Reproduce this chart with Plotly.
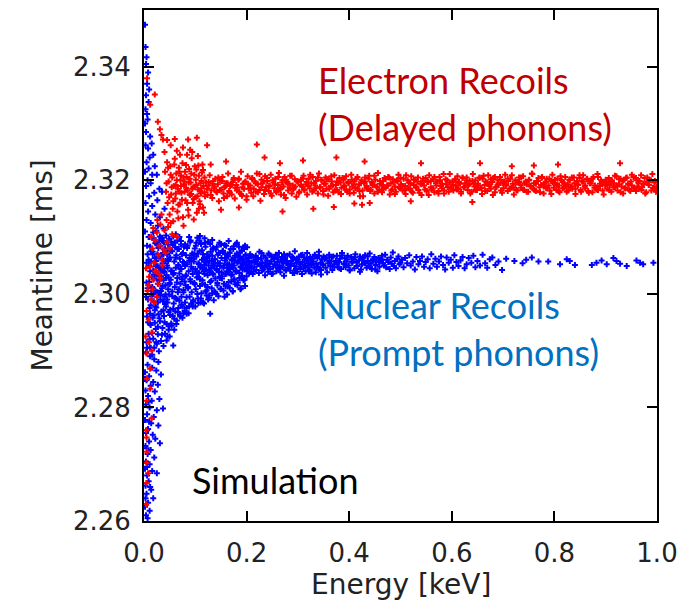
import plotly.graph_objects as go

# ---------------- axis ticks ----------------
x_ticks = [0.0, 0.2, 0.4, 0.6, 0.8, 1.0]
x_tick_labels = ["0.0", "0.2", "0.4", "0.6", "0.8", "1.0"]
y_ticks = [2.26, 2.28, 2.30, 2.32, 2.34]
y_tick_labels = ["2.26", "2.28", "2.30", "2.32", "2.34"]

# ---------------- Nuclear recoils (blue) : (energy keV, meantime ms) ----------------
nr_column = [
    (0.002, 2.3474), (0.003, 2.3435), (0.005, 2.3417), (0.004, 2.3405), (0.008, 2.3390), (0.006, 2.3370),
    (0.010, 2.3360), (0.004, 2.3350), (0.009, 2.3338), (0.003, 2.3325), (0.006, 2.3317), (0.002, 2.3300),
    (0.007, 2.3307), (0.012, 2.3277), (0.004, 2.3285), (0.015, 2.3265), (0.008, 2.3256), (0.003, 2.3262),
    (0.018, 2.3245), (0.011, 2.3240), (0.005, 2.3232), (0.021, 2.3225), (0.009, 2.3221), (0.002, 2.3215),
    (0.016, 2.3210), (0.025, 2.3210), (0.007, 2.3200), (0.013, 2.3195), (0.030, 2.3185), (0.004, 2.3190),
    (0.020, 2.3178), (0.035, 2.3180), (0.010, 2.3172), (0.026, 2.3165), (0.003, 2.3160), (0.016, 2.3155),
    (0.040, 2.3150), (0.008, 2.3145), (0.022, 2.3140), (0.031, 2.3135), (0.005, 2.3130), (0.013, 2.3125),
    (0.027, 2.3120), (0.038, 2.3115), (0.002, 2.3110), (0.018, 2.3108), (0.010, 2.3100), (0.034, 2.3098),
    (0.024, 2.3090), (0.045, 2.3092),
    (0.004, 2.2897), (0.012, 2.2890), (0.020, 2.2885), (0.028, 2.2880), (0.007, 2.2875), (0.016, 2.2870),
    (0.002, 2.2862), (0.024, 2.2865), (0.010, 2.2855), (0.033, 2.2858), (0.005, 2.2848), (0.018, 2.2845),
    (0.013, 2.2838), (0.027, 2.2840), (0.003, 2.2830), (0.021, 2.2828), (0.008, 2.2820), (0.030, 2.2815),
    (0.015, 2.2812), (0.004, 2.2805), (0.037, 2.2798), (0.011, 2.2800), (0.025, 2.2795), (0.006, 2.2788),
    (0.019, 2.2783), (0.002, 2.2778), (0.014, 2.2772), (0.028, 2.2768), (0.008, 2.2762), (0.004, 2.2755),
    (0.017, 2.2752), (0.022, 2.2745), (0.031, 2.2737), (0.010, 2.2740), (0.003, 2.2732), (0.013, 2.2725),
    (0.007, 2.2718), (0.020, 2.2712), (0.004, 2.2705), (0.011, 2.2700), (0.002, 2.2692), (0.016, 2.2688),
    (0.025, 2.2684), (0.006, 2.2680), (0.009, 2.2670), (0.003, 2.2662), (0.014, 2.2655), (0.005, 2.2648),
    (0.018, 2.2640), (0.008, 2.2632), (0.002, 2.2625), (0.011, 2.2618), (0.004, 2.2610), (0.007, 2.2605),
    (0.003, 2.2640), (0.006, 2.2695), (0.010, 2.2775), (0.005, 2.2728), (0.009, 2.2810), (0.002, 2.2850),
    (0.006, 2.2760), (0.012, 2.2660),
]

nr_fan = [
    (0.006, 2.3085), (0.009, 2.3060), (0.012, 2.3040), (0.005, 2.3020), (0.014, 2.3005), (0.008, 2.2990),
    (0.011, 2.2975), (0.006, 2.2960), (0.013, 2.2945), (0.009, 2.2930), (0.005, 2.2915), (0.012, 2.2905),
    (0.007, 2.3070), (0.010, 2.3050), (0.015, 2.3030), (0.004, 2.2995), (0.013, 2.2980), (0.008, 2.2950),
    (0.011, 2.2920), (0.006, 2.2905), (0.014, 2.3075), (0.009, 2.3100), (0.005, 2.3055), (0.012, 2.2965),
    (0.007, 2.3010),
    (0.016, 2.3012), (0.016, 2.2893), (0.017, 2.3074), (0.017, 2.2958), (0.018, 2.3041), (0.018, 2.2921),
    (0.019, 2.3098), (0.019, 2.2987), (0.020, 2.3027), (0.020, 2.2905), (0.021, 2.3063), (0.021, 2.2949),
    (0.022, 2.3006), (0.022, 2.3089), (0.023, 2.2938), (0.023, 2.3052), (0.024, 2.2976), (0.024, 2.3111),
    (0.025, 2.2912), (0.025, 2.3034), (0.026, 2.2995), (0.026, 2.3070), (0.027, 2.2929), (0.027, 2.3018),
    (0.028, 2.3081), (0.028, 2.2964), (0.029, 2.3045), (0.029, 2.2899), (0.030, 2.3002), (0.030, 2.3094),
    (0.018, 2.3000), (0.021, 2.2971), (0.024, 2.3058), (0.027, 2.2985), (0.029, 2.3023),
    (0.031, 2.3047), (0.031, 2.2952), (0.032, 2.3085), (0.032, 2.2998), (0.033, 2.2917), (0.033, 2.3031),
    (0.034, 2.3066), (0.034, 2.2969), (0.035, 2.3010), (0.035, 2.3099), (0.036, 2.2940), (0.036, 2.3054),
    (0.037, 2.2987), (0.037, 2.3072), (0.038, 2.2908), (0.038, 2.3024), (0.039, 2.3091), (0.039, 2.2961),
    (0.040, 2.3039), (0.040, 2.2995), (0.041, 2.3076), (0.041, 2.2930), (0.042, 2.3015), (0.042, 2.3058),
    (0.043, 2.2978), (0.043, 2.3103), (0.044, 2.2947), (0.044, 2.3033), (0.045, 2.3069), (0.045, 2.2990),
    (0.046, 2.2925), (0.046, 2.3046), (0.047, 2.3008), (0.047, 2.3087), (0.048, 2.2968), (0.048, 2.3029),
    (0.049, 2.3061), (0.049, 2.2943), (0.050, 2.3019), (0.050, 2.3080), (0.033, 2.3005), (0.037, 2.3040),
    (0.041, 2.2982), (0.045, 2.3050), (0.049, 2.2999),
    (0.051, 2.3064), (0.051, 2.2972), (0.052, 2.3025), (0.053, 2.3092), (0.053, 2.2948), (0.054, 2.3041),
    (0.055, 2.2996), (0.055, 2.3075), (0.056, 2.2961), (0.057, 2.3034), (0.057, 2.3101), (0.058, 2.2983),
    (0.059, 2.3057), (0.059, 2.2937), (0.060, 2.3012), (0.061, 2.3082), (0.061, 2.2969), (0.062, 2.3046),
    (0.063, 2.2991), (0.063, 2.3068), (0.064, 2.2953), (0.065, 2.3028), (0.065, 2.3094), (0.066, 2.3003),
    (0.067, 2.2975), (0.067, 2.3051), (0.068, 2.3079), (0.069, 2.2988), (0.069, 2.3036), (0.070, 2.3062),
    (0.071, 2.2960), (0.071, 2.3018), (0.072, 2.3087), (0.073, 2.2995), (0.073, 2.3044), (0.074, 2.3070),
    (0.075, 2.2978), (0.075, 2.3030), (0.076, 2.3056), (0.077, 2.3007), (0.077, 2.2966), (0.078, 2.3083),
    (0.079, 2.3022), (0.080, 2.2985), (0.080, 2.3049),
    (0.083, 2.2965), (0.129, 2.2965), (0.057, 2.2909), (0.050, 2.2925), (0.109, 2.3102), (0.062, 2.3105),
]

nr_band_a = [
    (0.081, 2.3031), (0.082, 2.3068), (0.083, 2.2994), (0.084, 2.3052), (0.085, 2.3085), (0.086, 2.3012),
    (0.087, 2.3040), (0.088, 2.2978), (0.089, 2.3063), (0.090, 2.3026), (0.091, 2.3094), (0.092, 2.3048),
    (0.093, 2.3003), (0.094, 2.3071), (0.095, 2.3035), (0.096, 2.2986), (0.097, 2.3057), (0.098, 2.3019),
    (0.099, 2.3080), (0.100, 2.3044), (0.101, 2.3008), (0.102, 2.3066), (0.103, 2.3029), (0.104, 2.3099),
    (0.105, 2.2992), (0.106, 2.3054), (0.107, 2.3037), (0.108, 2.3075), (0.109, 2.3014), (0.110, 2.3047),
    (0.111, 2.3088), (0.112, 2.3001), (0.113, 2.3060), (0.114, 2.3024), (0.115, 2.3070), (0.116, 2.3040),
    (0.117, 2.2983), (0.118, 2.3051), (0.119, 2.3016), (0.120, 2.3083), (0.121, 2.3043), (0.122, 2.3006),
    (0.123, 2.3064), (0.124, 2.3033), (0.125, 2.3092), (0.126, 2.3050), (0.127, 2.2997), (0.128, 2.3058),
    (0.129, 2.3021), (0.130, 2.3074), (0.131, 2.3045), (0.132, 2.3010), (0.133, 2.3067), (0.134, 2.3036),
    (0.135, 2.3081), (0.136, 2.3053), (0.137, 2.3004), (0.138, 2.3061), (0.139, 2.3027), (0.140, 2.3078),
    (0.142, 2.3042), (0.143, 2.3015), (0.144, 2.3069), (0.146, 2.3038), (0.147, 2.3090), (0.148, 2.3049),
    (0.150, 2.3009), (0.151, 2.3063), (0.152, 2.3031), (0.154, 2.3076), (0.155, 2.3046), (0.156, 2.3018),
    (0.158, 2.3059), (0.159, 2.3035), (0.160, 2.3085), (0.162, 2.3052), (0.163, 2.3013), (0.164, 2.3066),
    (0.166, 2.3039), (0.167, 2.3072), (0.168, 2.3044), (0.170, 2.3022), (0.171, 2.3060), (0.172, 2.3034),
    (0.174, 2.3079), (0.175, 2.3050), (0.176, 2.3026), (0.178, 2.3064), (0.179, 2.3041), (0.180, 2.3088),
    (0.182, 2.3055), (0.183, 2.3020), (0.184, 2.3068), (0.186, 2.3037), (0.187, 2.3073), (0.188, 2.3047),
    (0.190, 2.3029), (0.191, 2.3062), (0.192, 2.3043), (0.194, 2.3082), (0.195, 2.3054), (0.196, 2.3025),
    (0.198, 2.3067), (0.199, 2.3045),
    (0.088, 2.3100), (0.095, 2.2978), (0.102, 2.3090), (0.110, 2.2985), (0.118, 2.3098), (0.125, 2.2990),
    (0.133, 2.3095), (0.141, 2.3000), (0.150, 2.3088), (0.157, 2.2995), (0.165, 2.3093), (0.173, 2.3005),
    (0.181, 2.3090), (0.189, 2.3010), (0.197, 2.3085), (0.092, 2.3058), (0.106, 2.3030), (0.120, 2.3055),
    (0.134, 2.3050), (0.148, 2.3028), (0.162, 2.3040), (0.176, 2.3058), (0.190, 2.3048), (0.098, 2.3070),
    (0.114, 2.3045), (0.128, 2.3038), (0.144, 2.3055), (0.158, 2.3070), (0.172, 2.3050), (0.186, 2.3060),
]

nr_dense_energy = [
    0.010, 0.011, 0.012, 0.013, 0.014, 0.015, 0.016, 0.017, 0.018, 0.019, 0.020, 0.021,
    0.022, 0.023, 0.024, 0.025, 0.026, 0.027, 0.028, 0.029, 0.030, 0.031, 0.032, 0.033,
    0.034, 0.035, 0.036, 0.037, 0.038, 0.039, 0.040, 0.041, 0.042, 0.043, 0.044, 0.045,
    0.046, 0.047, 0.048, 0.049, 0.050, 0.051, 0.052, 0.053, 0.054, 0.055, 0.056, 0.057,
    0.058, 0.059, 0.060, 0.061, 0.062, 0.063, 0.064, 0.065, 0.066, 0.067, 0.068, 0.069,
    0.070, 0.071, 0.072, 0.073, 0.074, 0.075, 0.076, 0.077, 0.078, 0.079, 0.080, 0.081,
    0.082, 0.083, 0.084, 0.086, 0.087, 0.088, 0.089, 0.090, 0.091, 0.092, 0.093, 0.095,
    0.096, 0.097, 0.099, 0.100, 0.101, 0.103, 0.104, 0.105, 0.106, 0.107, 0.108, 0.109,
    0.110, 0.111, 0.113, 0.114, 0.115, 0.117, 0.118, 0.119, 0.120, 0.121, 0.122, 0.123,
    0.124, 0.125, 0.127, 0.128, 0.129, 0.131, 0.132, 0.133, 0.134, 0.135, 0.136, 0.137,
    0.138, 0.139, 0.141, 0.142, 0.143, 0.145, 0.146, 0.147, 0.148, 0.149, 0.150, 0.151,
    0.152, 0.153, 0.155, 0.156, 0.157, 0.159, 0.160, 0.161, 0.162, 0.163, 0.164, 0.165,
    0.166, 0.167, 0.169, 0.170, 0.171, 0.173, 0.174, 0.175, 0.176, 0.177, 0.178, 0.179,
    0.180, 0.181, 0.182, 0.184, 0.185, 0.186, 0.187, 0.188, 0.189, 0.190, 0.191, 0.192,
    0.193, 0.194, 0.195, 0.196, 0.197, 0.198, 0.199, 0.200, 0.201, 0.202, 0.203, 0.205,
]
nr_dense_meantime = [
    2.3021, 2.2948, 2.3083, 2.2905, 2.3057, 2.2996, 2.2931, 2.3070, 2.3009, 2.2962, 2.3095, 2.3034,
    2.2978, 2.3049, 2.2915, 2.3088, 2.3003, 2.2942, 2.3066, 2.3025, 2.2957, 2.3101, 2.2990, 2.3039,
    2.3062, 2.2928, 2.3014, 2.3093, 2.2971, 2.3045, 2.2950, 2.3080, 2.2999, 2.3028, 2.2918, 2.3071,
    2.2985, 2.3058, 2.2937, 2.3097, 2.3017, 2.2963, 2.3076, 2.3040, 2.2944, 2.3004, 2.3086, 2.2974,
    2.3037, 2.2956, 2.3090, 2.2993, 2.3064, 2.2947, 2.3020, 2.3079, 2.2968, 2.3050, 2.3008, 2.3100,
    2.2962, 2.3044, 2.3093, 2.2981, 2.3026, 2.2958, 2.3072, 2.3003, 2.3055, 2.2970, 2.3087, 2.3015,
    2.3033, 2.2975, 2.3081, 2.3010, 2.2966, 2.3059, 2.2995, 2.3092, 2.3022, 2.2983, 2.3068, 2.3043,
    2.2989, 2.3062, 2.3017, 2.2978, 2.3085, 2.3038, 2.3000, 2.3071, 2.2984, 2.3052, 2.3094, 2.3026,
    2.3048, 2.2992, 2.3077, 2.3018, 2.2985, 2.3063, 2.3035, 2.3090, 2.3004, 2.3056, 2.2997, 2.3070,
    2.3012, 2.3066, 2.2993, 2.3041, 2.3088, 2.3023, 2.3058, 2.3001, 2.3079, 2.3034, 2.2989, 2.3050,
    2.3061, 2.3003, 2.3044, 2.3083, 2.3019, 2.2996, 2.3072, 2.3030, 2.3054, 2.3008, 2.3087, 2.3038,
    2.3027, 2.3075, 2.3006, 2.3050, 2.3086, 2.3014, 2.3063, 2.3036, 2.2999, 2.3070, 2.3045, 2.3021,
    2.3052, 2.3011, 2.3079, 2.3033, 2.3060, 2.3004, 2.3046, 2.3084, 2.3025, 2.3067, 2.3017, 2.3040,
    2.3039, 2.3071, 2.3015, 2.3057, 2.3083, 2.3028, 2.3064, 2.3008, 2.3048, 2.3076, 2.3032, 2.3054,
    2.3062, 2.3024, 2.3079, 2.3043, 2.3014, 2.3069, 2.3051, 2.3031, 2.3082, 2.3046, 2.3058, 2.3037,
]

nr_band_b_energy = [
    0.201, 0.203, 0.204, 0.206, 0.207, 0.209, 0.210, 0.212, 0.213, 0.215, 0.216, 0.218, 0.219, 0.221, 0.222,
    0.224, 0.225, 0.227, 0.228, 0.230, 0.231, 0.233, 0.234, 0.236, 0.237, 0.239, 0.240, 0.242, 0.243, 0.245,
    0.246, 0.248, 0.249, 0.251, 0.252, 0.254, 0.255, 0.257, 0.258, 0.260, 0.261, 0.263, 0.264, 0.266, 0.267,
    0.269, 0.270, 0.272, 0.273, 0.275, 0.276, 0.278, 0.279, 0.281, 0.282, 0.284, 0.285, 0.287, 0.288, 0.290,
    0.291, 0.293, 0.294, 0.296, 0.297, 0.299, 0.300, 0.302, 0.303, 0.305, 0.306, 0.308, 0.309, 0.311, 0.312,
    0.314, 0.315, 0.317, 0.318, 0.320, 0.321, 0.323, 0.324, 0.326, 0.327, 0.329, 0.330, 0.332, 0.333, 0.335,
    0.336, 0.338, 0.339, 0.341, 0.342, 0.344, 0.345, 0.347, 0.348, 0.350,
]
nr_band_b_meantime = [
    2.3059, 2.3040, 2.3063, 2.3050, 2.3070, 2.3045, 2.3055, 2.3035, 2.3065, 2.3048,
    2.3056, 2.3067, 2.3042, 2.3052, 2.3061, 2.3037, 2.3074, 2.3049, 2.3062, 2.3041,
    2.3055, 2.3067, 2.3046, 2.3033, 2.3064, 2.3051, 2.3059, 2.3039, 2.3071, 2.3053,
    2.3044, 2.3057, 2.3066, 2.3036, 2.3048, 2.3063, 2.3052, 2.3069, 2.3040, 2.3056,
    2.3045, 2.3072, 2.3050, 2.3038, 2.3060, 2.3065, 2.3047, 2.3054, 2.3032, 2.3062,
    2.3043, 2.3058, 2.3067, 2.3051, 2.3046, 2.3070, 2.3041, 2.3058, 2.3053, 2.3037,
    2.3063, 2.3049, 2.3075, 2.3044, 2.3055, 2.3039, 2.3060, 2.3066, 2.3048, 2.3052,
    2.3068, 2.3035, 2.3056, 2.3045, 2.3064, 2.3050, 2.3040, 2.3059, 2.3072, 2.3047,
    2.3054, 2.3042, 2.3065, 2.3051, 2.3036, 2.3062, 2.3057, 2.3046, 2.3069, 2.3038,
    2.3053, 2.3063, 2.3048, 2.3067, 2.3043, 2.3055, 2.3034, 2.3061, 2.3052, 2.3066,
]

nr_band_e_energy = [
    0.205, 0.209, 0.213, 0.217, 0.221, 0.225, 0.229, 0.233, 0.237, 0.241, 0.245, 0.249, 0.253, 0.257, 0.261,
    0.265, 0.269, 0.273, 0.277, 0.281, 0.285, 0.289, 0.293, 0.297, 0.301, 0.305, 0.309, 0.313, 0.317, 0.321,
    0.325, 0.329, 0.333, 0.337, 0.341, 0.345, 0.349, 0.353, 0.357, 0.361, 0.366, 0.371, 0.376, 0.381, 0.386,
    0.391, 0.396, 0.401, 0.406, 0.411, 0.416, 0.421, 0.426, 0.431, 0.436, 0.441, 0.446, 0.451, 0.458, 0.465,
]
nr_band_e_meantime = [
    2.3047, 2.3066, 2.3039, 2.3058, 2.3063, 2.3052, 2.3072, 2.3043, 2.3055, 2.3048, 2.3068, 2.3035, 2.3061, 2.3051, 2.3064,
    2.3045, 2.3057, 2.3070, 2.3041, 2.3054, 2.3049, 2.3065, 2.3037, 2.3060, 2.3056, 2.3044, 2.3069, 2.3050, 2.3062, 2.3040,
    2.3059, 2.3053, 2.3067, 2.3046, 2.3074, 2.3042, 2.3051, 2.3063, 2.3038, 2.3058, 2.3065, 2.3048, 2.3055, 2.3045, 2.3068,
    2.3052, 2.3061, 2.3042, 2.3057, 2.3064, 2.3049, 2.3039, 2.3062, 2.3054, 2.3066, 2.3047, 2.3059, 2.3043, 2.3056, 2.3060,
]

nr_band_c_energy = [
    0.352, 0.354, 0.356, 0.359, 0.361, 0.363, 0.365, 0.367, 0.369, 0.371,
    0.374, 0.376, 0.378, 0.380, 0.382, 0.384, 0.386, 0.389, 0.391, 0.393,
    0.395, 0.397, 0.399, 0.401, 0.404, 0.406, 0.408, 0.410, 0.412, 0.414,
    0.416, 0.419, 0.421, 0.423, 0.425, 0.427, 0.429, 0.431, 0.434, 0.436,
    0.438, 0.440, 0.442, 0.444, 0.446, 0.449, 0.451, 0.453, 0.455, 0.457,
    0.459, 0.461, 0.464, 0.466, 0.468, 0.470, 0.472, 0.474, 0.476, 0.479,
    0.481, 0.483, 0.485, 0.487, 0.489, 0.491, 0.494, 0.496, 0.498, 0.500,
]
nr_band_c_meantime = [
    2.3061, 2.3046, 2.3064, 2.3054, 2.3069, 2.3049, 2.3057, 2.3042, 2.3066, 2.3052,
    2.3058, 2.3067, 2.3047, 2.3056, 2.3062, 2.3044, 2.3072, 2.3053, 2.3063, 2.3047,
    2.3057, 2.3067, 2.3050, 2.3041, 2.3065, 2.3055, 2.3061, 2.3045, 2.3070, 2.3056,
    2.3049, 2.3059, 2.3066, 2.3043, 2.3052, 2.3064, 2.3055, 2.3068, 2.3046, 2.3058,
    2.3050, 2.3071, 2.3054, 2.3044, 2.3061, 2.3065, 2.3051, 2.3057, 2.3040, 2.3063,
    2.3048, 2.3060, 2.3067, 2.3054, 2.3050, 2.3069, 2.3047, 2.3060, 2.3056, 2.3044,
    2.3064, 2.3053, 2.3073, 2.3049, 2.3058, 2.3045, 2.3062, 2.3066, 2.3052, 2.3055,
]

nr_band_d_energy = [
    0.503, 0.506, 0.509, 0.513, 0.517, 0.520, 0.524, 0.528, 0.531, 0.535,
    0.538, 0.542, 0.546, 0.549, 0.553, 0.557, 0.560, 0.564, 0.568, 0.571,
    0.575, 0.579, 0.583, 0.587, 0.590, 0.594, 0.598, 0.602, 0.605, 0.609,
    0.613, 0.617, 0.621, 0.625, 0.629, 0.633, 0.638, 0.642, 0.646, 0.650,
    0.655, 0.660, 0.665, 0.669, 0.674, 0.679, 0.685, 0.691, 0.698, 0.706,
]
nr_band_d_meantime = [
    2.3060, 2.3047, 2.3063, 2.3054, 2.3068, 2.3050, 2.3057, 2.3043, 2.3065, 2.3052,
    2.3058, 2.3066, 2.3048, 2.3056, 2.3061, 2.3045, 2.3070, 2.3053, 2.3062, 2.3048,
    2.3057, 2.3066, 2.3051, 2.3043, 2.3064, 2.3055, 2.3060, 2.3046, 2.3068, 2.3056,
    2.3049, 2.3059, 2.3065, 2.3045, 2.3052, 2.3063, 2.3055, 2.3067, 2.3047, 2.3058,
    2.3050, 2.3069, 2.3054, 2.3046, 2.3061, 2.3064, 2.3051, 2.3057, 2.3042, 2.3062,
]

nr_sparse = [
    (0.722, 2.3058), (0.738, 2.3054), (0.745, 2.3060), (0.756, 2.3064), (0.769, 2.3057), (0.788, 2.3057),
    (0.811, 2.3052), (0.824, 2.3061), (0.830, 2.3058), (0.840, 2.3051), (0.873, 2.3051), (0.882, 2.3055),
    (0.892, 2.3059), (0.902, 2.3052), (0.915, 2.3063), (0.921, 2.3058), (0.928, 2.3053), (0.941, 2.3049),
    (0.960, 2.3059), (0.967, 2.3055), (0.973, 2.3052), (0.993, 2.3055),
]

# ---------------- Electron recoils (red) ----------------
er_tail = [
    (0.005, 2.2970), (0.015, 2.2932), (0.005, 2.2895), (0.015, 2.2900), (0.012, 2.2868), (0.012, 2.2833),
    (0.005, 2.2812), (0.015, 2.2781), (0.005, 2.2747), (0.005, 2.2702), (0.008, 2.2684), (0.005, 2.2667),
    (0.004, 2.2760), (0.006, 2.2850), (0.003, 2.2925), (0.009, 2.2955), (0.020, 2.2985), (0.025, 2.2995),
    (0.007, 2.3005), (0.017, 2.3008), (0.028, 2.3018), (0.004, 2.3045), (0.014, 2.2990), (0.010, 2.2915),
    (0.004, 2.2630), (0.006, 2.2722), (0.022, 2.3040), (0.032, 2.3028),
    (0.018, 2.3116), (0.025, 2.3108), (0.032, 2.3122), (0.040, 2.3112), (0.047, 2.3118), (0.055, 2.3105),
    (0.064, 2.3100), (0.022, 2.3095), (0.030, 2.3085), (0.038, 2.3078), (0.045, 2.3092), (0.050, 2.3081),
    (0.028, 2.3068), (0.035, 2.3060), (0.042, 2.3072), (0.016, 2.3080), (0.020, 2.3055), (0.012, 2.3048),
    (0.024, 2.3040), (0.010, 2.3030), (0.030, 2.3035), (0.008, 2.3015), (0.018, 2.3025), (0.036, 2.3050),
    (0.026, 2.3130), (0.034, 2.3140), (0.014, 2.3100), (0.044, 2.3130), (0.052, 2.3125),
]

er_low = [
    (0.012, 2.3333), (0.021, 2.3351), (0.027, 2.3303), (0.031, 2.3290), (0.034, 2.3280), (0.037, 2.3272),
    (0.045, 2.3271), (0.060, 2.3273), (0.086, 2.3272), (0.103, 2.3275), (0.076, 2.3258), (0.090, 2.3254),
    (0.123, 2.3262), (0.052, 2.3262), (0.040, 2.3250), (0.070, 2.3245), (0.105, 2.3243), (0.006, 2.3380),
    (0.041, 2.3215), (0.043, 2.3180), (0.045, 2.3232), (0.046, 2.3160), (0.048, 2.3198), (0.050, 2.3140),
    (0.051, 2.3225), (0.053, 2.3175), (0.055, 2.3205), (0.056, 2.3150), (0.058, 2.3190), (0.060, 2.3238),
    (0.061, 2.3168), (0.063, 2.3212), (0.065, 2.3145), (0.066, 2.3185), (0.068, 2.3222), (0.070, 2.3158),
    (0.071, 2.3200), (0.073, 2.3178), (0.075, 2.3230), (0.076, 2.3135), (0.078, 2.3193), (0.080, 2.3215),
    (0.081, 2.3165), (0.083, 2.3206), (0.085, 2.3182), (0.086, 2.3148), (0.088, 2.3220), (0.090, 2.3174),
    (0.091, 2.3196), (0.093, 2.3239), (0.095, 2.3160), (0.096, 2.3188), (0.098, 2.3210), (0.100, 2.3170),
    (0.101, 2.3201), (0.103, 2.3143), (0.105, 2.3184), (0.106, 2.3226), (0.108, 2.3163), (0.110, 2.3195),
    (0.111, 2.3177), (0.113, 2.3214), (0.115, 2.3152), (0.116, 2.3190), (0.118, 2.3205), (0.119, 2.3172),
    (0.062, 2.3192), (0.072, 2.3208), (0.082, 2.3187), (0.092, 2.3176), (0.102, 2.3219), (0.112, 2.3199),
    (0.057, 2.3128), (0.067, 2.3133), (0.077, 2.3120), (0.087, 2.3138), (0.097, 2.3131), (0.107, 2.3150),
    (0.117, 2.3143), (0.084, 2.3245), (0.064, 2.3252), (0.094, 2.3250), (0.079, 2.3198), (0.069, 2.3180),
    (0.089, 2.3203), (0.099, 2.3189), (0.109, 2.3181), (0.114, 2.3228),
    (0.044, 2.3195), (0.047, 2.3222), (0.049, 2.3170), (0.052, 2.3210), (0.054, 2.3188), (0.057, 2.3163),
    (0.059, 2.3228), (0.062, 2.3177), (0.064, 2.3200), (0.067, 2.3157), (0.069, 2.3215), (0.072, 2.3190),
    (0.074, 2.3166), (0.077, 2.3205), (0.079, 2.3180), (0.082, 2.3227), (0.084, 2.3160), (0.087, 2.3196),
    (0.089, 2.3175), (0.092, 2.3212), (0.094, 2.3185), (0.097, 2.3167), (0.099, 2.3225), (0.102, 2.3192),
    (0.104, 2.3172), (0.107, 2.3208), (0.109, 2.3158), (0.112, 2.3186), (0.115, 2.3218), (0.118, 2.3179),
]

er_band_a = [
    (0.121, 2.3196), (0.124, 2.3174), (0.126, 2.3191), (0.128, 2.3209), (0.131, 2.3182), (0.133, 2.3169),
    (0.135, 2.3199), (0.137, 2.3186), (0.139, 2.3203), (0.142, 2.3179), (0.144, 2.3193), (0.146, 2.3163),
    (0.148, 2.3200), (0.151, 2.3184), (0.153, 2.3206), (0.155, 2.3177), (0.157, 2.3188), (0.160, 2.3195),
    (0.162, 2.3172), (0.164, 2.3212), (0.166, 2.3181), (0.168, 2.3190), (0.171, 2.3175), (0.173, 2.3197),
    (0.175, 2.3204), (0.177, 2.3168), (0.180, 2.3192), (0.182, 2.3187), (0.184, 2.3201), (0.186, 2.3180),
    (0.189, 2.3215), (0.191, 2.3173), (0.193, 2.3194), (0.195, 2.3185), (0.198, 2.3198), (0.200, 2.3166),
    (0.202, 2.3207), (0.204, 2.3185), (0.207, 2.3191), (0.209, 2.3178), (0.211, 2.3204), (0.213, 2.3172),
    (0.216, 2.3198), (0.218, 2.3180), (0.220, 2.3212), (0.222, 2.3193), (0.225, 2.3183), (0.227, 2.3164),
    (0.229, 2.3201), (0.231, 2.3195), (0.234, 2.3176), (0.236, 2.3207), (0.238, 2.3188), (0.240, 2.3199),
    (0.243, 2.3181), (0.245, 2.3190), (0.247, 2.3210), (0.249, 2.3173), (0.252, 2.3196), (0.254, 2.3186),
    (0.256, 2.3203), (0.258, 2.3179), (0.261, 2.3192), (0.263, 2.3213), (0.265, 2.3184), (0.267, 2.3175),
    (0.270, 2.3200), (0.272, 2.3189), (0.274, 2.3206), (0.276, 2.3169), (0.279, 2.3197), (0.281, 2.3182),
    (0.283, 2.3194), (0.285, 2.3208), (0.288, 2.3177), (0.290, 2.3191), (0.292, 2.3187), (0.294, 2.3202),
    (0.297, 2.3171), (0.299, 2.3198),
    (0.220, 2.3263), (0.160, 2.3233), (0.235, 2.3240), (0.150, 2.3148), (0.185, 2.3152), (0.270, 2.3145),
    (0.130, 2.3228), (0.265, 2.3230),
]

er_band_b_energy = [
    0.301, 0.303, 0.306, 0.308, 0.311, 0.312, 0.316, 0.318, 0.321, 0.323,
    0.326, 0.329, 0.331, 0.334, 0.335, 0.339, 0.341, 0.344, 0.346, 0.349,
    0.351, 0.354, 0.356, 0.359, 0.360, 0.364, 0.366, 0.369, 0.371, 0.374,
    0.376, 0.379, 0.381, 0.384, 0.385, 0.389, 0.391, 0.394, 0.396, 0.399,
    0.401, 0.404, 0.406, 0.409, 0.410, 0.414, 0.416, 0.419, 0.421, 0.424,
    0.426, 0.429, 0.431, 0.434, 0.435, 0.439, 0.441, 0.444, 0.446, 0.449,
    0.451, 0.454, 0.456, 0.459, 0.460, 0.464, 0.466, 0.469, 0.471, 0.474,
    0.476, 0.479, 0.481, 0.484, 0.485, 0.489, 0.491, 0.494, 0.496, 0.499,
    0.501, 0.504, 0.506, 0.509, 0.510, 0.514, 0.516, 0.519, 0.521, 0.524,
    0.526, 0.529, 0.531, 0.534, 0.535, 0.539, 0.541, 0.544, 0.546, 0.549,
    0.551, 0.554, 0.556, 0.559, 0.560, 0.564, 0.566, 0.569, 0.571, 0.574,
    0.576, 0.579, 0.581, 0.584, 0.585, 0.589, 0.591, 0.594, 0.596, 0.599,
]
er_band_b_meantime = [
    2.3197, 2.3180, 2.3201, 2.3189, 2.3208, 2.3184, 2.3193, 2.3175, 2.3203, 2.3186,
    2.3195, 2.3206, 2.3182, 2.3191, 2.3199, 2.3177, 2.3212, 2.3188, 2.3200, 2.3181,
    2.3194, 2.3205, 2.3185, 2.3173, 2.3202, 2.3190, 2.3198, 2.3179, 2.3209, 2.3192,
    2.3183, 2.3196, 2.3204, 2.3176, 2.3187, 2.3201, 2.3191, 2.3207, 2.3180, 2.3195,
    2.3184, 2.3210, 2.3189, 2.3178, 2.3198, 2.3203, 2.3186, 2.3193, 2.3172, 2.3200,
    2.3182, 2.3196, 2.3205, 2.3190, 2.3185, 2.3208, 2.3181, 2.3197, 2.3192, 2.3177,
    2.3201, 2.3188, 2.3213, 2.3183, 2.3194, 2.3179, 2.3199, 2.3204, 2.3187, 2.3191,
    2.3206, 2.3175, 2.3195, 2.3184, 2.3202, 2.3189, 2.3180, 2.3198, 2.3210, 2.3186,
    2.3193, 2.3182, 2.3203, 2.3190, 2.3176, 2.3200, 2.3196, 2.3185, 2.3207, 2.3178,
    2.3192, 2.3201, 2.3187, 2.3205, 2.3183, 2.3194, 2.3174, 2.3199, 2.3191, 2.3204,
    2.3181, 2.3197, 2.3209, 2.3188, 2.3184, 2.3202, 2.3179, 2.3195, 2.3198, 2.3177,
    2.3206, 2.3190, 2.3186, 2.3211, 2.3182, 2.3193, 2.3200, 2.3180, 2.3196, 2.3189,
]

er_band_c_energy = [
    0.601, 0.603, 0.606, 0.608, 0.611, 0.612, 0.616, 0.618, 0.621, 0.623,
    0.626, 0.629, 0.631, 0.634, 0.635, 0.639, 0.641, 0.644, 0.646, 0.649,
    0.651, 0.654, 0.656, 0.659, 0.660, 0.664, 0.666, 0.669, 0.671, 0.674,
    0.676, 0.679, 0.681, 0.684, 0.685, 0.689, 0.691, 0.694, 0.696, 0.699,
    0.701, 0.704, 0.706, 0.709, 0.710, 0.714, 0.716, 0.719, 0.721, 0.724,
    0.726, 0.729, 0.731, 0.734, 0.735, 0.739, 0.741, 0.744, 0.746, 0.749,
    0.751, 0.754, 0.756, 0.759, 0.760, 0.764, 0.766, 0.769, 0.771, 0.774,
    0.776, 0.779, 0.781, 0.784, 0.785, 0.789, 0.791, 0.794, 0.796, 0.799,
    0.801, 0.804, 0.806, 0.809, 0.810, 0.814, 0.816, 0.819, 0.821, 0.824,
    0.826, 0.829, 0.831, 0.834, 0.835, 0.839, 0.841, 0.844, 0.846, 0.849,
    0.851, 0.854, 0.856, 0.859, 0.860, 0.864, 0.866, 0.869, 0.871, 0.874,
    0.876, 0.879, 0.881, 0.884, 0.885, 0.889, 0.891, 0.894, 0.896, 0.899,
    0.901, 0.903, 0.906, 0.908, 0.911, 0.912, 0.916, 0.918, 0.921, 0.923,
    0.926, 0.929, 0.931, 0.934, 0.935, 0.939, 0.941, 0.944, 0.946, 0.949,
    0.951, 0.954, 0.956, 0.959, 0.960, 0.964, 0.966, 0.969, 0.971, 0.974,
    0.976, 0.979, 0.981, 0.984, 0.985, 0.989, 0.991, 0.994, 0.996, 0.999,
]
er_band_c_meantime = [
    2.3198, 2.3182, 2.3201, 2.3191, 2.3207, 2.3186, 2.3194, 2.3177, 2.3204, 2.3188,
    2.3195, 2.3205, 2.3183, 2.3193, 2.3199, 2.3180, 2.3211, 2.3189, 2.3200, 2.3183,
    2.3194, 2.3205, 2.3187, 2.3176, 2.3203, 2.3192, 2.3198, 2.3181, 2.3209, 2.3193,
    2.3185, 2.3197, 2.3204, 2.3179, 2.3188, 2.3201, 2.3192, 2.3206, 2.3182, 2.3195,
    2.3186, 2.3210, 2.3191, 2.3181, 2.3199, 2.3203, 2.3187, 2.3194, 2.3175, 2.3200,
    2.3183, 2.3197, 2.3205, 2.3192, 2.3187, 2.3207, 2.3183, 2.3198, 2.3193, 2.3180,
    2.3201, 2.3189, 2.3212, 2.3185, 2.3195, 2.3181, 2.3199, 2.3204, 2.3188, 2.3192,
    2.3206, 2.3177, 2.3195, 2.3186, 2.3203, 2.3191, 2.3182, 2.3199, 2.3210, 2.3187,
    2.3194, 2.3183, 2.3203, 2.3191, 2.3179, 2.3200, 2.3197, 2.3187, 2.3206, 2.3180,
    2.3193, 2.3201, 2.3188, 2.3205, 2.3185, 2.3195, 2.3176, 2.3199, 2.3192, 2.3204,
    2.3183, 2.3198, 2.3209, 2.3189, 2.3186, 2.3203, 2.3181, 2.3195, 2.3199, 2.3179,
    2.3206, 2.3191, 2.3187, 2.3211, 2.3183, 2.3194, 2.3200, 2.3182, 2.3197, 2.3191,
    2.3197, 2.3185, 2.3204, 2.3192, 2.3180, 2.3200, 2.3195, 2.3188, 2.3207, 2.3182,
    2.3193, 2.3203, 2.3189, 2.3177, 2.3201, 2.3186, 2.3205, 2.3194, 2.3183, 2.3198,
    2.3191, 2.3206, 2.3187, 2.3181, 2.3200, 2.3195, 2.3185, 2.3209, 2.3188, 2.3193,
    2.3204, 2.3179, 2.3197, 2.3192, 2.3201, 2.3182, 2.3211, 2.3186, 2.3199, 2.3189,
]

er_band_d_energy = [
    0.123, 0.126, 0.130, 0.134, 0.137, 0.141, 0.145, 0.148, 0.152, 0.156, 0.159, 0.163,
    0.167, 0.170, 0.174, 0.178, 0.181, 0.185, 0.189, 0.192, 0.196, 0.200, 0.203, 0.207,
    0.211, 0.214, 0.218, 0.222, 0.225, 0.229, 0.233, 0.236, 0.240, 0.244, 0.247, 0.251,
    0.255, 0.258, 0.262, 0.266, 0.269, 0.273, 0.277, 0.280, 0.284, 0.288, 0.291, 0.295,
    0.299, 0.302, 0.306, 0.310, 0.313, 0.317, 0.321, 0.324, 0.328, 0.332, 0.335, 0.339,
    0.343, 0.346, 0.350, 0.354, 0.357, 0.361, 0.365, 0.368, 0.372, 0.376, 0.379, 0.383,
    0.387, 0.390, 0.394, 0.398, 0.401, 0.405, 0.409, 0.412, 0.416, 0.420, 0.423, 0.427,
    0.431, 0.434, 0.438, 0.442, 0.445, 0.449, 0.453, 0.456, 0.460, 0.464, 0.467, 0.471,
    0.475, 0.478, 0.482, 0.486, 0.489, 0.493, 0.497, 0.500, 0.504, 0.508, 0.511, 0.515,
    0.519, 0.522, 0.526, 0.530, 0.533, 0.537, 0.541, 0.544, 0.548, 0.552, 0.555, 0.559,
    0.563, 0.566, 0.570, 0.574, 0.577, 0.581, 0.585, 0.588, 0.592, 0.596, 0.599, 0.603,
    0.607, 0.610, 0.614, 0.618, 0.621, 0.625, 0.629, 0.632, 0.636, 0.640, 0.643, 0.647,
    0.651, 0.654, 0.658, 0.662, 0.665, 0.669, 0.673, 0.676, 0.680, 0.684, 0.687, 0.691,
    0.695, 0.698, 0.702, 0.706, 0.709, 0.713, 0.717, 0.720, 0.724, 0.728, 0.731, 0.735,
    0.739, 0.742, 0.746, 0.750, 0.753, 0.757, 0.761, 0.764, 0.768, 0.772, 0.775, 0.779,
    0.783, 0.786, 0.790, 0.794, 0.797, 0.801, 0.805, 0.808, 0.812, 0.816, 0.819, 0.823,
    0.827, 0.830, 0.834, 0.838, 0.841, 0.845, 0.849, 0.852, 0.856, 0.860, 0.863, 0.867,
    0.871, 0.874, 0.878, 0.882, 0.885, 0.889, 0.893, 0.896, 0.900, 0.904, 0.907, 0.911,
    0.915, 0.918, 0.922, 0.926, 0.929, 0.933, 0.937, 0.940, 0.944, 0.948, 0.951, 0.955,
    0.959, 0.962, 0.966, 0.970, 0.973, 0.977, 0.981, 0.984, 0.988, 0.992, 0.995, 0.998,
]
er_band_d_meantime = [
    2.3185, 2.3197, 2.3174, 2.3194, 2.3189, 2.3180, 2.3205, 2.3183, 2.3199, 2.3169, 2.3190, 2.3195,
    2.3178, 2.3192, 2.3201, 2.3187, 2.3182, 2.3203, 2.3176, 2.3188, 2.3196, 2.3172, 2.3193, 2.3186,
    2.3202, 2.3185, 2.3195, 2.3179, 2.3211, 2.3188, 2.3198, 2.3183, 2.3204, 2.3191, 2.3177, 2.3200,
    2.3193, 2.3181, 2.3206, 2.3186, 2.3196, 2.3174, 2.3201, 2.3194, 2.3187, 2.3208, 2.3184, 2.3189,
    2.3199, 2.3178, 2.3192, 2.3203, 2.3183, 2.3197, 2.3190, 2.3210, 2.3180, 2.3195, 2.3186, 2.3205,
    2.3188, 2.3200, 2.3175, 2.3194, 2.3202, 2.3185, 2.3207, 2.3191, 2.3182, 2.3198, 2.3179, 2.3196,
    2.3204, 2.3190, 2.3183, 2.3197, 2.3177, 2.3201, 2.3193, 2.3186, 2.3206, 2.3181, 2.3195, 2.3172,
    2.3198, 2.3187, 2.3203, 2.3184, 2.3194, 2.3208, 2.3189, 2.3180, 2.3199, 2.3192, 2.3185, 2.3202,
    2.3191, 2.3205, 2.3182, 2.3196, 2.3176, 2.3200, 2.3188, 2.3204, 2.3190, 2.3183, 2.3209, 2.3186,
    2.3195, 2.3180, 2.3201, 2.3189, 2.3198, 2.3178, 2.3193, 2.3203, 2.3184, 2.3197, 2.3174, 2.3199,
    2.3186, 2.3206, 2.3191, 2.3181, 2.3200, 2.3194, 2.3177, 2.3202, 2.3188, 2.3211, 2.3185, 2.3192,
    2.3202, 2.3184, 2.3197, 2.3180, 2.3205, 2.3188, 2.3200, 2.3191, 2.3177, 2.3199, 2.3194, 2.3183,
    2.3191, 2.3204, 2.3186, 2.3208, 2.3181, 2.3196, 2.3190, 2.3202, 2.3174, 2.3206, 2.3188, 2.3195,
    2.3201, 2.3178, 2.3198, 2.3192, 2.3203, 2.3185, 2.3209, 2.3187, 2.3193, 2.3182, 2.3197, 2.3205,
    2.3184, 2.3195, 2.3180, 2.3200, 2.3190, 2.3211, 2.3183, 2.3194, 2.3199, 2.3179, 2.3204, 2.3189,
    2.3197, 2.3187, 2.3203, 2.3176, 2.3196, 2.3201, 2.3192, 2.3181, 2.3207, 2.3186, 2.3195, 2.3190,
    2.3182, 2.3200, 2.3189, 2.3205, 2.3185, 2.3193, 2.3209, 2.3180, 2.3198, 2.3191, 2.3202, 2.3178,
    2.3195, 2.3203, 2.3187, 2.3184, 2.3206, 2.3190, 2.3197, 2.3175, 2.3201, 2.3194, 2.3183, 2.3199,
    2.3188, 2.3208, 2.3191, 2.3202, 2.3179, 2.3198, 2.3186, 2.3204, 2.3193, 2.3181, 2.3210, 2.3185,
    2.3204, 2.3189, 2.3199, 2.3183, 2.3194, 2.3177, 2.3205, 2.3192, 2.3200, 2.3187, 2.3196, 2.3180,
]

er_outliers = [
    (0.375, 2.3240), (0.430, 2.3233), (0.540, 2.3230), (0.655, 2.3230), (0.717, 2.3225), (0.807, 2.3228),
    (0.928, 2.3230), (0.760, 2.3226), (0.310, 2.3235), (0.330, 2.3150), (0.370, 2.3153), (0.410, 2.3159),
    (0.425, 2.3157), (0.440, 2.3160), (0.520, 2.3163), (0.640, 2.3162),
]


def unzip(pairs):
    return [p[0] for p in pairs], [p[1] for p in pairs]


nr_x, nr_y = [], []
for seg in (nr_column, nr_fan, nr_band_a, nr_sparse):
    sx, sy = unzip(seg)
    nr_x += sx
    nr_y += sy
nr_x += nr_dense_energy + nr_band_b_energy + nr_band_e_energy + nr_band_c_energy + nr_band_d_energy
nr_y += nr_dense_meantime + nr_band_b_meantime + nr_band_e_meantime + nr_band_c_meantime + nr_band_d_meantime

er_x, er_y = [], []
for seg in (er_low, er_band_a, er_outliers):
    sx, sy = unzip(seg)
    er_x += sx
    er_y += sy
er_x += er_band_b_energy + er_band_c_energy + er_band_d_energy
er_y += er_band_b_meantime + er_band_c_meantime + er_band_d_meantime
tx, ty = unzip(er_tail)
er_x += tx
er_y += ty

MARK = dict(symbol="cross", size=5, line=dict(width=0))

fig = go.Figure()
fig.add_trace(go.Scatter(x=nr_x, y=nr_y, mode="markers", name="Nuclear Recoils",
                         marker=dict(color="#0000ff", **MARK), hoverinfo="skip"))
fig.add_trace(go.Scatter(x=er_x, y=er_y, mode="markers", name="Electron Recoils",
                         marker=dict(color="#ff0000", **MARK), hoverinfo="skip"))

axis_common = dict(
    showgrid=False, zeroline=False, showline=True, linecolor="black", linewidth=2,
    mirror="allticks", ticks="inside", ticklen=10, tickwidth=1.5, tickcolor="black",
    tickfont=dict(family="DejaVu Sans", size=26, color="#222222"),
)
fig.update_xaxes(range=[0, 1], tickvals=x_ticks, ticktext=x_tick_labels, ticklabelstandoff=8, **axis_common)
fig.update_yaxes(range=[2.26, 2.35], tickvals=y_ticks, ticktext=y_tick_labels, ticklabelstandoff=6, **axis_common)

TXT = "Lato"
fig.update_layout(
    width=700, height=604, margin=dict(l=144, r=43, t=8, b=83),
    plot_bgcolor="white", paper_bgcolor="white", showlegend=False,
    annotations=[
        dict(text="Electron Recoils<br>(Delayed phonons)", x=0.335, y=0.8177, xref="paper", yref="paper",
             xanchor="left", yanchor="middle", align="left", showarrow=False,
             font=dict(family=TXT, size=36, color="#c00000")),
        dict(text="Nuclear Recoils<br>(Prompt phonons)", x=0.335, y=0.376, xref="paper", yref="paper",
             xanchor="left", yanchor="middle", align="left", showarrow=False,
             font=dict(family=TXT, size=36, color="#0070c0")),
        dict(text="Simulation", x=0.0897, y=0.081, xref="paper", yref="paper",
             xanchor="left", yanchor="middle", align="left", showarrow=False,
             font=dict(family=TXT, size=36, color="black")),
        dict(text="Energy [keV]", x=0.5, y=-0.1248, xref="paper", yref="paper",
             xanchor="center", yanchor="middle", showarrow=False,
             font=dict(family="DejaVu Sans", size=28, color="#222222")),
        dict(text="Meantime [ms]", x=-0.1988, y=0.5, xref="paper", yref="paper", textangle=-90,
             xanchor="center", yanchor="middle", showarrow=False,
             font=dict(family="DejaVu Sans", size=28, color="#222222")),
    ],
)

fig.write_html("out.html")
